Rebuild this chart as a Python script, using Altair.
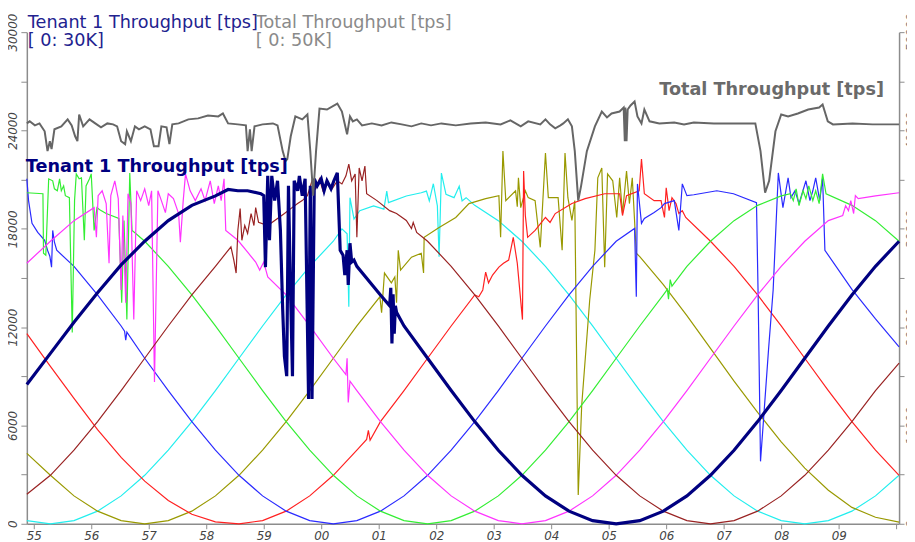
import altair as alt
import pandas as pd

# time axis: minutes after hh:55 ; values in transactions per second
TICK_MINUTES = list(range(16))
FIRST_MINUTE_LABEL = 55

TENANT1 = [(-0.12,8500),(0.29,10400),(0.70,12300),(1.11,14100),(1.52,15800),(1.93,17242),(2.34,18498),(2.75,19431),(3.16,20006),(3.38,20400),(3.55,20320),(3.72,20320),(3.95,20140),(4.00,20020),(4.03,15660),(4.07,21230),(4.10,17300),(4.14,21230),(4.19,19720),(4.24,20930),(4.29,17900),(4.33,13060),(4.36,10220),(4.40,9010),(4.43,20620),(4.47,13670),(4.50,9010),(4.53,20930),(4.59,20320),(4.62,21230),(4.67,20020),(4.72,21050),(4.78,7620),(4.81,20620),(4.84,7620),(4.88,21050),(4.93,20620),(5.00,21050),(5.05,20320),(5.10,20930),(5.17,20440),(5.22,20930),(5.28,21410),(5.33,16690),(5.38,16390),(5.41,15180),(5.45,16690),(5.47,14580),(5.50,17120),(5.53,15970),(5.57,16090),(5.62,15711),(6.03,13965),(6.19,13300),(6.21,14400),(6.23,11000),(6.25,14000),(6.27,11600),(6.29,13300),(6.31,12900),(6.44,12070),(6.85,10100),(7.26,8130),(7.67,6235),(8.08,4489),(8.49,2958),(8.90,1702),(9.31,769),(9.72,194),(10.13,0),(10.54,194),(10.95,769),(11.36,1702),(11.77,2958),(12.18,4489),(12.59,6235),(13.00,8130),(13.41,10100),(13.82,12070),(14.23,13965),(14.64,15711),(15.05,17242)]

BLUE = [(-0.12,21050),(-0.09,19720),(-0.03,18330),(0.07,17780),(0.19,17300),(0.24,16690),(0.28,16330),(0.31,15660),(0.33,17900),(0.36,17180),(0.40,16690),(0.70,15711),(1.11,13965),(1.52,12070),(1.58,11750),(1.60,11200),(1.62,11700),(1.93,10100),(2.34,8130),(2.75,6235),(3.16,4489),(3.57,2958),(3.98,1702),(4.39,769),(4.80,194),(5.21,0),(5.62,194),(6.03,769),(6.44,1702),(6.85,2958),(7.26,4489),(7.67,6235),(8.08,8130),(8.49,10100),(8.90,12070),(9.31,13965),(9.72,15711),(10.13,17242),(10.45,18020),(10.48,13850),(10.50,20740),(10.57,18330),(10.62,18630),(10.79,18990),(10.91,19290),(10.97,19540),(11.14,19720),(11.22,17900),(11.28,20740),(11.36,20020),(11.48,20080),(11.88,20320),(12.17,20140),(12.57,19600),(12.60,13670),(12.64,3810),(12.69,6230),(12.78,10640),(12.86,14270),(12.95,21410),(13.03,19290),(13.12,21110),(13.17,19900),(13.24,20320),(13.31,19540),(13.43,20930),(13.50,19720),(13.55,20320),(13.60,21110),(13.67,19720),(13.72,21110),(13.76,16690),(14.23,14300),(14.64,12500),(15.05,10800)]

RED = [(-0.12,11600),(0.29,9600),(0.70,7650),(1.11,5750),(1.52,4050),(1.93,2600),(2.34,1420),(2.75,580),(3.16,120),(3.57,0),(3.98,194),(4.39,769),(4.80,1702),(5.21,2958),(5.62,4489),(5.79,5150),(5.82,5700),(5.85,5100),(6.03,6235),(6.44,8130),(6.85,10100),(7.26,12070),(7.67,13965),(7.74,13850),(7.81,14270),(7.86,15360),(7.91,14700),(7.98,15180),(8.09,15660),(8.17,15900),(8.26,16090),(8.34,17480),(8.41,15900),(8.50,12460),(8.52,21530),(8.55,18810),(8.59,17480),(8.72,17900),(8.90,18690),(8.98,18390),(9.07,18930),(9.36,19540),(9.59,19840),(9.93,20140),(10.19,20140),(10.24,18810),(10.31,20020),(10.53,20320),(10.57,22260),(10.62,20140),(10.79,19720),(10.91,19720),(10.97,18690),(11.00,20500),(11.05,19110),(11.10,19900),(11.17,19540),(11.22,18930),(11.28,19110),(11.34,18690),(11.77,17242),(12.18,15711),(12.59,13965),(13.00,12070),(13.41,10100),(13.82,8130),(14.23,6235),(14.64,4489),(15.05,2958)]

GREEN = [(-0.12,20200),(0.16,20140),(0.17,16510),(0.21,16390),(0.26,21050),(0.33,20930),(0.36,20440),(0.41,20320),(0.45,21050),(0.48,20320),(0.52,20620),(0.55,20020),(0.62,19900),(0.67,11670),(0.71,19720),(0.74,21350),(0.79,21050),(0.83,21110),(0.88,17300),(0.91,20620),(0.97,21050),(1.00,21350),(1.05,17900),(1.10,19290),(1.17,19110),(1.26,18930),(1.48,18630),(1.53,13490),(1.57,18510),(1.62,12460),(1.67,21410),(1.71,17900),(1.78,17700),(1.93,17242),(2.34,15711),(2.75,13965),(3.16,12070),(3.57,10100),(3.98,8130),(4.39,6235),(4.80,4489),(5.21,2958),(5.62,1702),(6.03,769),(6.44,194),(6.85,0),(7.26,194),(7.67,769),(8.08,1702),(8.49,2958),(8.90,4489),(9.31,6235),(9.72,8130),(10.13,10100),(10.54,12070),(10.95,13965),(11.02,14300),(11.04,13700),(11.07,14900),(11.10,14500),(11.36,15711),(11.77,17242),(12.18,18498),(12.59,19431),(13.00,20006),(13.16,20140),(13.21,19720),(13.26,20440),(13.31,19410),(13.38,20320),(13.43,19840),(13.48,20620),(13.55,19720),(13.60,20320),(13.66,19540),(13.72,21350),(13.78,20140),(14.23,19431),(14.64,18498),(15.05,17242)]

MAGENTA = [(-0.12,15900),(0.29,17242),(0.70,18498),(1.05,19290),(1.09,17480),(1.12,20020),(1.19,20320),(1.26,19540),(1.31,15900),(1.34,20020),(1.41,20930),(1.47,19840),(1.52,14270),(1.55,18810),(1.60,13490),(1.64,20140),(1.69,19540),(1.74,12460),(1.79,20320),(1.86,19720),(1.93,20440),(2.00,19410),(2.05,20320),(2.10,8650),(2.16,20320),(2.22,19720),(2.29,18990),(2.34,20140),(2.43,19840),(2.52,18930),(2.55,17180),(2.60,19720),(2.64,21350),(2.72,20320),(2.81,19720),(2.91,20440),(2.98,19720),(3.07,20930),(3.14,19540),(3.21,20620),(3.26,19720),(3.31,21050),(3.34,17900),(3.55,17300),(3.72,16570),(3.86,15970),(3.93,15480),(4.00,15970),(4.07,15060),(4.39,13965),(4.80,12070),(5.21,10100),(5.43,9100),(5.45,10100),(5.47,7400),(5.50,8700),(5.62,8130),(6.03,6235),(6.44,4489),(6.85,2958),(7.26,1702),(7.67,769),(8.08,194),(8.49,0),(8.90,194),(9.31,769),(9.72,1702),(10.13,2958),(10.54,4489),(10.95,6235),(11.36,8130),(11.77,10100),(12.18,12070),(12.59,13965),(13.00,15711),(13.41,17242),(13.82,18498),(14.07,18810),(14.12,19410),(14.17,19110),(14.21,19720),(14.26,18930),(14.29,20020),(14.34,19840),(14.64,20006),(15.05,20200)]

BROWN = [(-0.12,1800),(0.29,2958),(0.70,4489),(1.11,6235),(1.52,8130),(1.93,10100),(2.34,12070),(2.75,13965),(3.16,15711),(3.43,16900),(3.48,16090),(3.52,15300),(3.55,17900),(3.59,19230),(3.62,17300),(3.67,18200),(3.72,17720),(3.78,18930),(3.83,18200),(3.86,19290),(3.91,18390),(4.07,18200),(4.24,18630),(4.36,18930),(4.47,19230),(4.59,19540),(4.67,19720),(4.76,20020),(4.84,20930),(4.90,20440),(4.97,21050),(5.03,20320),(5.10,20740),(5.19,20440),(5.28,20930),(5.36,20740),(5.43,21230),(5.48,21950),(5.53,20930),(5.59,21350),(5.62,17480),(5.66,21710),(5.71,20930),(5.76,21830),(5.79,20140),(5.97,19720),(6.19,19110),(6.31,18930),(6.48,18510),(6.57,18020),(6.60,18390),(6.66,17780),(6.85,17242),(7.26,15711),(7.67,13965),(8.08,12070),(8.49,10100),(8.90,8130),(9.31,6235),(9.72,4489),(10.13,2958),(10.54,1702),(10.95,769),(11.36,194),(11.77,0),(12.18,194),(12.59,769),(13.00,1702),(13.41,2958),(13.82,4489),(14.23,6235),(14.64,8130),(15.05,9800)]

CYAN = [(-0.12,194),(0.29,0),(0.70,194),(1.11,769),(1.52,1702),(1.93,2958),(2.34,4489),(2.75,6235),(3.16,8130),(3.57,10100),(3.98,12070),(4.39,13965),(4.80,15711),(5.21,17242),(5.36,18000),(5.45,17700),(5.48,13250),(5.50,19900),(5.57,18600),(5.67,19100),(5.91,19400),(6.09,19200),(6.14,20300),(6.17,19600),(6.48,20000),(6.74,20200),(6.83,20300),(6.88,19700),(6.95,20750),(7.02,19400),(7.05,16300),(7.09,21400),(7.17,20100),(7.31,19900),(7.40,20600),(7.45,19700),(7.52,19900),(7.67,19431),(8.08,18498),(8.49,17242),(8.90,15711),(9.31,13965),(9.72,12070),(10.13,10100),(10.54,8130),(10.95,6235),(11.36,4489),(11.77,2958),(12.18,1702),(12.59,769),(13.00,194),(13.41,0),(13.82,194),(14.23,769),(14.64,1702),(15.05,2958)]

OLIVE = [(-0.12,4300),(0.29,2958),(0.70,1702),(1.11,769),(1.52,194),(1.93,0),(2.34,194),(2.75,769),(3.16,1702),(3.57,2958),(3.98,4489),(4.39,6235),(4.80,8130),(5.21,10100),(5.62,12070),(6.02,13850),(6.05,12880),(6.10,15300),(6.22,14700),(6.28,15060),(6.31,13490),(6.34,16690),(6.38,15480),(6.57,16270),(6.74,16510),(6.78,15300),(6.79,17480),(7.05,18080),(7.34,18690),(7.57,19540),(7.86,19840),(8.09,20020),(8.12,17480),(8.16,22740),(8.21,19720),(8.38,20320),(8.41,19350),(8.43,21110),(8.47,19290),(8.55,20320),(8.60,19900),(8.72,19720),(8.81,16870),(8.90,22620),(8.95,19900),(9.12,19900),(9.19,16690),(9.24,22620),(9.29,19900),(9.36,18510),(9.41,19720),(9.47,1750),(9.53,7200),(9.67,13670),(9.76,16690),(9.81,21110),(9.88,21710),(9.93,15660),(9.98,21350),(10.07,20930),(10.14,18690),(10.19,21110),(10.24,18930),(10.31,21530),(10.36,19540),(10.41,21110),(10.48,16510),(10.54,16300),(10.95,14600),(11.36,12700),(11.77,10700),(12.18,8700),(12.59,6800),(13.00,5000),(13.41,3400),(13.82,2050),(14.23,1000),(14.64,400),(15.05,100)]

# total throughput (right axis)
TOTAL = [(-0.12,40720),(-0.07,40930),(0.02,40520),(0.10,40720),(0.19,39920),(0.24,37900),(0.28,38910),(0.31,38100),(0.36,40120),(0.48,40420),(0.59,41130),(0.66,40520),(0.72,39410),(0.76,38910),(0.79,41630),(0.86,40420),(0.97,41130),(1.07,40720),(1.17,40320),(1.28,40720),(1.38,40620),(1.45,40420),(1.52,38910),(1.59,38610),(1.62,39920),(1.69,38910),(1.76,40420),(1.83,40120),(1.93,40420),(2.03,40120),(2.09,38400),(2.17,38400),(2.22,40420),(2.31,40320),(2.36,38610),(2.41,40620),(2.52,40720),(2.69,41130),(2.86,41230),(3.03,41530),(3.21,41430),(3.29,41730),(3.38,40720),(3.55,40620),(3.69,40520),(3.72,37900),(3.76,40120),(3.79,37900),(3.84,40420),(3.98,40620),(4.16,40720),(4.24,40520),(4.33,37900),(4.38,36890),(4.41,37090),(4.47,39410),(4.55,41430),(4.67,41130),(4.76,41630),(4.81,37900),(4.86,33360),(4.91,37900),(4.97,42230),(5.10,42130),(5.28,42740),(5.36,41930),(5.45,39610),(5.50,41430),(5.55,40930),(5.62,41130),(5.71,40520),(5.88,40720),(6.05,40520),(6.22,40820),(6.40,40620),(6.57,40420),(6.74,40720),(6.91,40520),(7.09,40720),(7.34,40520),(7.60,40720),(7.86,40820),(8.12,40620),(8.29,41030),(8.47,40420),(8.60,40930),(8.81,40620),(8.90,41130),(8.98,40620),(9.07,40220),(9.16,40520),(9.21,40720),(9.29,41130),(9.36,40420),(9.41,37900),(9.47,32860),(9.52,34370),(9.62,37900),(9.76,40420),(9.88,41930),(9.97,41330),(10.05,41730),(10.19,41930),(10.26,42340),(10.28,38910),(10.29,42340),(10.31,38910),(10.33,42130),(10.38,42540),(10.45,42940),(10.50,41430),(10.57,40720),(10.62,42130),(10.71,40930),(10.88,40720),(11.14,40820),(11.31,40620),(11.48,40820),(11.83,40720),(12.26,40720),(12.55,40720),(12.64,37900),(12.72,33670),(12.79,34880),(12.90,39920),(13.00,41630),(13.12,41430),(13.29,41730),(13.47,42130),(13.66,42340),(13.72,42640),(13.81,40930),(13.90,40620),(14.24,40720),(14.59,40620),(15.05,40620)]

SERIES = {
    "Tenant 8": CYAN, "Tenant 7": OLIVE, "Tenant 3": RED, "Tenant 2": BLUE,
    "Tenant 4": GREEN, "Tenant 5": MAGENTA, "Tenant 6": BROWN, "Tenant 1": TENANT1,
}
STYLE = {
    "Tenant 8": ("#22eeee", 1.2), "Tenant 7": ("#999900", 1.2), "Tenant 3": ("#ff2020", 1.2),
    "Tenant 2": ("#2a2aff", 1.2), "Tenant 4": ("#33ee33", 1.2), "Tenant 5": ("#ff33ff", 1.2),
    "Tenant 6": ("#992222", 1.2), "Tenant 1": ("#000080", 3.2),
}

rows = [{"tenant": n, "t": t, "v": v} for n, pts in SERIES.items() for t, v in pts]
df = pd.DataFrame(rows)
total_df = pd.DataFrame(TOTAL, columns=["t", "total"])

FONT = "DejaVu Sans"
AX_GRAY = "#8c8c8c"
LBL = "#444444"

x_enc = alt.X("t:Q", scale=alt.Scale(domain=[-0.12, 15.05], nice=False, zero=False),
              axis=alt.Axis(values=TICK_MINUTES, title=None, grid=False,
                            labelExpr=f"datum.value > 14.5 ? '' : format((datum.value + {FIRST_MINUTE_LABEL}) % 60, '02d')",
                            labelFont=FONT, labelFontSize=12, labelFontStyle="italic", labelColor=LBL,
                            labelPadding=2, labelFlush=False, labelOverlap=False,
                            tickSize=5, tickColor=AX_GRAY, domainColor=AX_GRAY, domainWidth=1.5))

y_left = alt.Y("v:Q", scale=alt.Scale(domain=[0, 30000], nice=False),
               axis=alt.Axis(values=list(range(0, 30001, 3000)), format="d", title=None, grid=False,
                             labelExpr="datum.value % 6000 === 0 ? datum.label : ''",
                             labelAngle=270, labelAlign="center", labelBaseline="bottom",
                             labelFont=FONT, labelFontSize=12, labelFontStyle="italic", labelColor=LBL,
                             labelPadding=1, labelFlush=False, labelOverlap=False,
                             tickSize=6, tickColor=AX_GRAY, domainColor=AX_GRAY, domainWidth=1.5))

y_right = alt.Y("total:Q", scale=alt.Scale(domain=[0, 50000], nice=False),
                axis=alt.Axis(orient="right", values=list(range(0, 50001, 5000)), format="d", title=None, grid=False,
                              labelExpr="datum.value % 10000 === 0 ? datum.label : ''",
                              labelAngle=270, labelAlign="center", labelBaseline="top",
                              labelFont=FONT, labelFontSize=12, labelFontStyle="italic", labelColor="#777777",
                              labelPadding=2, labelFlush=False, labelOverlap=False,
                              tickSize=5, tickColor=AX_GRAY, domainColor=AX_GRAY, domainWidth=1.5))

base = alt.Chart(df).encode(x=x_enc, y=y_left)
tenant_layers = []
for name in SERIES:
    color, width = STYLE[name]
    tenant_layers.append(
        base.transform_filter(alt.datum.tenant == name).mark_line(color=color, strokeWidth=width)
    )
tenants = alt.layer(*tenant_layers)

total = alt.Chart(total_df).mark_line(color="#666666", strokeWidth=2).encode(x=x_enc, y=y_right)


def label(text, px, py, color, bold=False):
    return alt.Chart(alt.Data(values=[{}])).mark_text(
        text=text, align="left", baseline="alphabetic", font=FONT, fontSize=17.8,
        fontWeight="bold" if bold else "normal", color=color
    ).encode(x=alt.value(px), y=alt.value(py))


texts = [
    label("Tenant 1 Throughput [tps]", 1, -4, "#22228f"),
    label("[ 0: 30K]", 1, 14, "#22228f"),
    label("Total Throughput [tps]", 231, -4, "#8a8a8a"),
    label("[ 0: 50K]", 231, 14, "#8a8a8a"),
    label("Tenant 1 Throughput [tps]", -1, 141, "#000080", bold=True),
    label("Total Throughput [tps]", 638, 63, "#6a6a6a", bold=True),
]

chart = alt.layer(tenants, total, *texts).resolve_scale(y="independent").properties(
    width=880, height=496,
    padding={"left": 19, "top": 22, "right": 8, "bottom": 14},
    autosize=alt.AutoSizeParams(type="none"),
).configure_view(stroke=None)

chart.save("out.html", embed_options={"renderer": "svg", "actions": False})
